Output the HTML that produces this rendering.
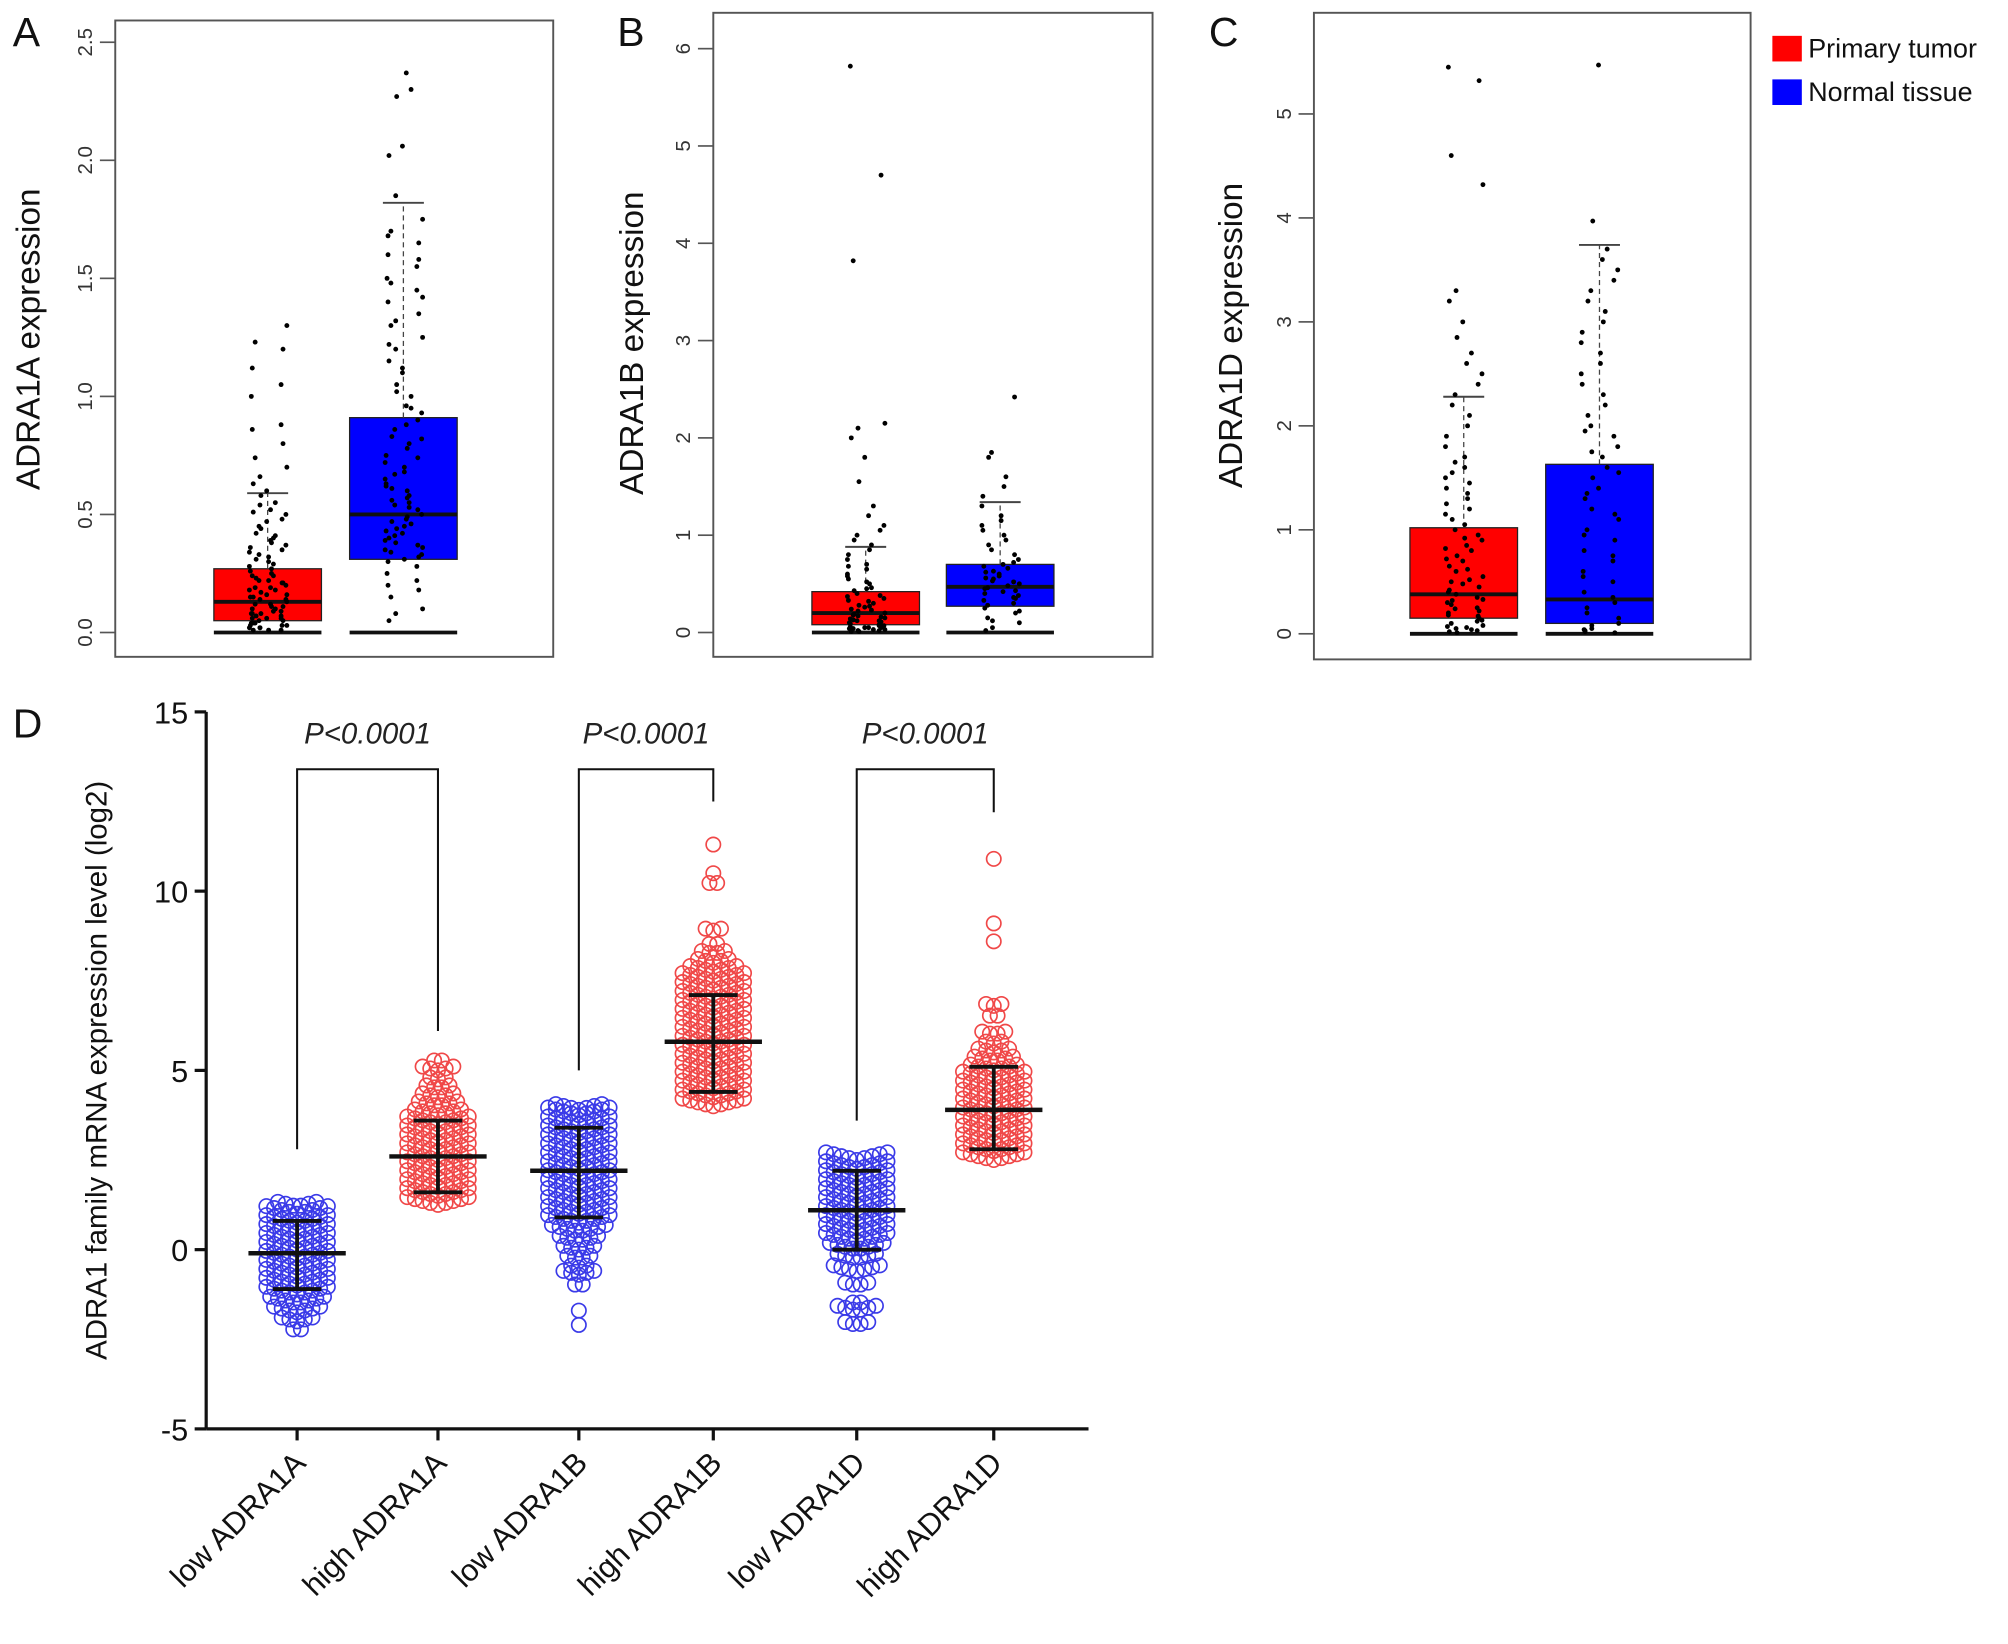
<!DOCTYPE html>
<html><head><meta charset="utf-8"><style>
html,body{margin:0;padding:0;background:#fff}
svg{display:block}
text{font-family:"Liberation Sans",sans-serif}
</style></head><body>
<svg id="fig" width="2008" height="1644" viewBox="0 0 1568 1284" preserveAspectRatio="none" xmlns="http://www.w3.org/2000/svg"></svg>
<script>
// ---- Panels A-C data ----
const boxGroups = ["Primary tumor","Normal tissue"];
const aStats = [[0,0.05,0.13,0.27,0.59],[0,0.31,0.50,0.91,1.82]];
const bStats = [[0,0.08,0.20,0.42,0.88],[0,0.27,0.47,0.70,1.34]];
const cStats = [[0,0.15,0.38,1.02,2.28],[0,0.10,0.33,1.63,3.74]];
const aTicks = [0,0.5,1,1.5,2,2.5];
const aTickLabels = ["0.0","0.5","1.0","1.5","2.0","2.5"];
const bTicks = [0,1,2,3,4,5,6];
const cTicks = [0,1,2,3,4,5];
const aRed = [0.01,0.02,0.03,0.04,0.05,0.06,0.07,0.08,0.09,0.1,0.11,0.12,0.13,0.14,0.15,0.16,0.17,0.18,0.19,0.2,0.21,0.22,0.23,0.24,0.25,0.26,0.28,0.3,0.32,0.34,0.36,0.38,0.4,0.42,0.45,0.48,0.5,0.52,0.55,0.58,0.6,0.63,0.66,0.7,0.74,0.8,0.86,0.88,1.0,1.05,1.12,1.2,1.23,1.3,0.02,0.04,0.06,0.08,0.1,0.12,0.14,0.03,0.05,0.07,0.09,0.11,0.15,0.18,0.22,0.01,0.02,0.03,0.27,0.29,0.31,0.33,0.35,0.37,0.39,0.41,0.44,0.47,0.51,0.54,0.16,0.19,0.21,0.24,0.01,0.04,0.06,0.08];
const aBlue = [0.05,0.08,0.1,0.15,0.18,0.2,0.22,0.25,0.28,0.3,0.32,0.34,0.36,0.38,0.4,0.42,0.44,0.46,0.48,0.5,0.52,0.54,0.56,0.58,0.6,0.62,0.65,0.68,0.7,0.72,0.75,0.78,0.8,0.83,0.86,0.9,0.93,0.96,1.0,1.05,1.1,1.15,1.2,1.25,1.3,1.35,1.4,1.45,1.5,1.55,1.6,1.65,1.7,1.75,1.85,2.02,2.06,2.27,2.3,2.37,0.33,0.37,0.41,0.47,0.53,0.57,0.63,0.35,0.45,0.31,0.39,0.43,0.49,0.55,0.61,0.67,0.74,0.82,0.88,0.95,1.02,1.12,1.22,1.32,1.42,1.48,1.58,1.68];
const bRed = [0.01,0.02,0.03,0.04,0.05,0.06,0.08,0.1,0.12,0.14,0.16,0.18,0.2,0.22,0.24,0.26,0.28,0.3,0.32,0.35,0.38,0.4,0.43,0.46,0.5,0.55,0.6,0.65,0.7,0.75,0.8,0.85,0.9,0.95,1.0,1.05,1.1,1.2,1.3,1.55,1.8,2.0,2.1,2.15,3.82,4.7,5.82,0.02,0.04,0.07,0.09,0.11,0.13,0.15,0.17,0.03,0.05,0.01,0.03,0.05,0.07,0.09,0.12,0.19,0.23,0.27,0.33,0.37,0.45,0.52,0.58,0.68];
const bBlue = [0.02,0.05,0.1,0.15,0.2,0.25,0.3,0.33,0.36,0.4,0.43,0.46,0.5,0.53,0.56,0.6,0.63,0.66,0.7,0.75,0.8,0.85,0.9,0.95,1.0,1.05,1.1,1.15,1.2,1.3,1.4,1.5,1.6,1.8,1.85,2.42,0.38,0.42,0.48,0.55,0.58,0.62,0.12,0.22,0.28,0.35,0.45,0.52,0.68,0.72];
const cRed = [0.02,0.05,0.08,0.1,0.15,0.2,0.25,0.3,0.35,0.4,0.45,0.5,0.55,0.6,0.65,0.7,0.75,0.8,0.85,0.9,0.95,1.0,1.1,1.2,1.3,1.4,1.5,1.6,1.7,1.8,1.9,2.0,2.1,2.2,2.3,2.4,2.5,2.6,2.7,2.85,3.0,3.2,3.3,4.32,4.6,5.32,5.45,0.03,0.07,0.12,0.18,0.22,0.28,0.33,0.38,0.42,0.48,0.01,0.04,0.06,0.13,0.17,0.24,0.32,0.52,0.62,0.72,0.82,0.92,1.05,1.15,1.25,1.35,1.45,1.55,1.65];
const cBlue = [0.02,0.05,0.1,0.2,0.3,0.4,0.5,0.6,0.7,0.8,0.9,1.0,1.1,1.2,1.3,1.4,1.5,1.6,1.7,1.8,1.9,2.0,2.1,2.2,2.3,2.4,2.5,2.6,2.7,2.8,2.9,3.0,3.1,3.2,3.3,3.4,3.5,3.6,3.7,3.97,5.47,0.03,0.08,0.15,0.25,0.01,0.04,0.35,0.55,0.75,0.95,1.15,1.35,1.55,1.75,1.95];

// ---- Panel D data ----
const dCategories = ["low ADRA1A","high ADRA1A","low ADRA1B","high ADRA1B","low ADRA1D","high ADRA1D"];
const dMeans = [-0.1,2.6,2.2,5.8,1.1,3.9];
const dLow = [-1.1,1.6,0.9,4.4,0.0,2.8];
const dHigh = [0.8,3.6,3.4,7.1,2.2,5.1];
const dLevels0 = [-2.25,-2,-1.75,-1.5,-1.25,-1,-0.75,-0.5,-0.25,0,0.25,0.5,0.75,1,1.2];
const dCounts0 = [2,5,7,8,9,9,9,9,9,9,9,9,9,9,6];
const dLevels1 = [1.25,1.5,1.75,2,2.25,2.5,2.75,3,3.25,3.5,3.75,4,4.25,4.5,4.75,5,5.25];
const dCounts1 = [9,9,9,9,9,9,9,9,9,9,7,6,5,4,3,5,2];
const dLevels2 = [-2.1,-1.7,-1,-0.7,-0.5,-0.25,0,0.25,0.5,0.75,1,1.25,1.5,1.75,2,2.25,2.5,2.75,3,3.25,3.5,3.75,3.9];
const dCounts2 = [1,1,2,5,3,4,5,6,8,9,9,9,9,9,9,9,9,9,9,9,9,9,7];
const dLevels3 = [4,4.25,4.5,4.75,5,5.25,5.5,5.75,6,6.25,6.5,6.75,7,7.25,7.5,7.75,8,8.25,8.5,8.9,10.2,10.5,11.3];
const dCounts3 = [9,9,9,9,9,9,9,9,9,9,9,9,9,9,9,7,5,4,2,3,2,1,1];
const dLevels4 = [-2.1,-1.7,-1.5,-1,-0.6,-0.25,0,0.25,0.5,0.75,1,1.25,1.5,1.75,2,2.25,2.5];
const dCounts4 = [4,6,2,4,7,6,8,9,9,9,9,9,9,9,9,9,9];
const dLevels5 = [2.5,2.75,3,3.25,3.5,3.75,4,4.25,4.5,4.75,5,5.25,5.5,5.75,6,6.5,6.8,8.6,9.1,10.9];
const dCounts5 = [9,9,9,9,9,9,9,9,9,9,7,6,5,3,4,2,3,1,1,1];
const dYTicks = [-5,0,5,10,15];
const dBrackets = [[2.8,6.1],[5.0,12.5],[3.6,12.2]];
const dBracketTop = 13.4;
const pLabel = "P<0.0001";

const NS="http://www.w3.org/2000/svg";
const svg=document.getElementById('fig');
function el(tag,attrs,parent){const e=document.createElementNS(NS,tag);for(const k in attrs)e.setAttribute(k,attrs[k]);(parent||svg).appendChild(e);return e;}
function txt(s,attrs,parent){const t=el('text',attrs,parent);t.textContent=s;return t;}

function boxPanel(cfg){
  const g=el('g',{});
  
  
  const y=v=>cfg.y0-v*cfg.ppu;
  const frame=el('rect',{x:cfg.x0,y:cfg.top,width:cfg.x1-cfg.x0,height:cfg.bottom-cfg.top,fill:'none',stroke:'#555','stroke-width':1.5},g);
  
  
  cfg.ticks.forEach((t,i)=>{
    el('line',{x1:cfg.x0-12,x2:cfg.x0,y1:y(t),y2:y(t),stroke:'#555','stroke-width':1.3},g);
    const lab=txt(cfg.tickLabels[i],{x:cfg.x0-18,y:y(t),transform:`rotate(-90 ${cfg.x0-18} ${y(t)})`,'text-anchor':'middle','font-size':16,fill:'#333'},g);
    
    
  });
  const yl=txt(cfg.ylabel,{x:cfg.ylx,y:cfg.yly,transform:`rotate(-90 ${cfg.ylx} ${cfg.yly})`,'text-anchor':'middle','font-size':26,fill:'#111'},g);
  
  
  const pl=txt(cfg.letter,{x:cfg.lx,y:36,'font-size':32,fill:'#111'},g);
  
  
  const colors=['#ff0000','#0000ff'];
  cfg.stats.forEach((s,gi)=>{
    const bx=cfg.bx[gi], bw=84, cx=bx+bw/2;
    const r=el('rect',{x:bx,y:y(s[3]),width:bw,height:y(s[1])-y(s[3]),fill:colors[gi],stroke:'#222','stroke-width':1},g);
    
    
    el('line',{x1:bx,x2:bx+bw,y1:y(s[2]),y2:y(s[2]),stroke:'#111','stroke-width':3},g);
    el('line',{x1:bx,x2:bx+bw,y1:y(s[0]),y2:y(s[0]),stroke:'#111','stroke-width':3},g);
    el('line',{x1:cx-16,x2:cx+16,y1:y(s[4]),y2:y(s[4]),stroke:'#444','stroke-width':1.5},g);
    el('line',{x1:cx,x2:cx,y1:y(s[3]),y2:y(s[4]),stroke:'#444','stroke-width':1,'stroke-dasharray':'4 3'},g);
    cfg.points[gi].forEach((v,i)=>{
      const dx=(((i*i*31+i*17+5)%41)-20)*0.75;
      const c=el('circle',{cx:cx+dx,cy:y(v),r:1.9,fill:'#000'},g);
      
      
    });
  });
}
boxPanel({name:'panel-a',letter:'A',lx:10,x0:90,x1:432,top:16,bottom:513,y0:494,ppu:184.4,ticks:aTicks,tickLabels:aTickLabels,ylabel:'ADRA1A expression',ylx:31,yly:265,stats:aStats,bx:[167,273],points:[aRed,aBlue]});
boxPanel({name:'panel-b',letter:'B',lx:482,x0:557,x1:900,top:10,bottom:513,y0:494,ppu:76,ticks:bTicks,tickLabels:bTicks.map(String),ylabel:'ADRA1B expression',ylx:502,yly:268,stats:bStats,bx:[634,739],points:[bRed,bBlue]});
boxPanel({name:'panel-c',letter:'C',lx:944,x0:1026,x1:1367,top:10,bottom:515,y0:495,ppu:81.2,ticks:cTicks,tickLabels:cTicks.map(String),ylabel:'ADRA1D expression',ylx:970,yly:262,stats:cStats,bx:[1101,1207],points:[cRed,cBlue]});

// legend
const lg=el('g',{});


[['#ff0000','Primary tumor',28],['#0000ff','Normal tissue',62]].forEach(([c,t,yy])=>{
  const e=el('g',{},lg);
  
  
  el('rect',{x:1384,y:yy,width:23,height:20,fill:c},e);
  txt(t,{x:1412,y:yy+17,'font-size':21,fill:'#111'},e);
});

// ---- Panel D ----
const D={x0:161,x1:850,y0:976,ppu:28};
const dy=v=>D.y0-v*D.ppu;
const dxs=[232,342,452,557,669,776];
const dg=el('g',{});


const dl=txt('D',{x:10,y:576,'font-size':32,fill:'#111'},dg);


el('line',{x1:D.x0,x2:D.x0,y1:dy(15),y2:dy(-5),stroke:'#111','stroke-width':2.5},dg);
el('line',{x1:D.x0,x2:D.x1,y1:dy(-5),y2:dy(-5),stroke:'#111','stroke-width':2.5},dg);
dYTicks.forEach(t=>{
  el('line',{x1:D.x0-9,x2:D.x0,y1:dy(t),y2:dy(t),stroke:'#111','stroke-width':2.5},dg);
  const l=txt(String(t),{x:D.x0-14,y:dy(t)+9,'text-anchor':'end','font-size':24,fill:'#111'},dg);
  
  
});
const dyl=txt('ADRA1 family mRNA expression level (log2)',{x:83,y:836,transform:'rotate(-90 83 836)','text-anchor':'middle','font-size':23,fill:'#111'},dg);


const levels=[dLevels0,dLevels1,dLevels2,dLevels3,dLevels4,dLevels5];
const counts=[dCounts0,dCounts1,dCounts2,dCounts3,dCounts4,dCounts5];
dCategories.forEach((cat,i)=>{
  const cx=dxs[i];
  const col=i%2? '#f04848':'#3a3ae8';
  el('line',{x1:cx,x2:cx,y1:dy(-5),y2:dy(-5)+9,stroke:'#111','stroke-width':2.5},dg);
  const tl=txt(cat,{x:cx+8,y:dy(-5)+28,transform:`rotate(-45 ${cx+8} ${dy(-5)+28})`,'text-anchor':'end','font-size':24,fill:'#111'},dg);
  
  
  const sg=el('g',{},dg);
  
  
  levels[i].forEach((v,k)=>{
    const n=counts[i][k];
    for(let j=0;j<n;j++){
      const off=(j-(n-1)/2)*6;
      const c=el('circle',{cx:cx+off,cy:dy(v)-Math.abs(off)*0.25,r:5.6,fill:'none',stroke:col,'stroke-width':1.3},sg);
      
      
    }
  });
  const eb=el('g',{},dg);
  
  
  el('line',{x1:cx-38,x2:cx+38,y1:dy(dMeans[i]),y2:dy(dMeans[i]),stroke:'#111','stroke-width':3.5},eb);
  el('line',{x1:cx,x2:cx,y1:dy(dLow[i]),y2:dy(dHigh[i]),stroke:'#111','stroke-width':3},eb);
  el('line',{x1:cx-19,x2:cx+19,y1:dy(dLow[i]),y2:dy(dLow[i]),stroke:'#111','stroke-width':3},eb);
  el('line',{x1:cx-19,x2:cx+19,y1:dy(dHigh[i]),y2:dy(dHigh[i]),stroke:'#111','stroke-width':3},eb);
});
dBrackets.forEach((b,k)=>{
  const xa=dxs[2*k],xb=dxs[2*k+1];
  const br=el('polyline',{points:`${xa},${dy(b[0])} ${xa},${dy(dBracketTop)} ${xb},${dy(dBracketTop)} ${xb},${dy(b[1])}`,fill:'none',stroke:'#111','stroke-width':1.6},dg);
  
  
  const p=txt(pLabel,{x:(xa+xb)/2,y:dy(14.4)+8,'text-anchor':'middle','font-size':23,'font-style':'italic',fill:'#222'},dg);
  
  
});
</script>
</body></html>
